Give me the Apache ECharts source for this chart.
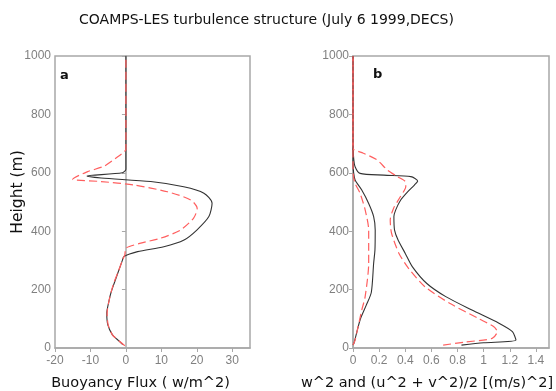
<!DOCTYPE html>
<html>
<head>
<meta charset="utf-8">
<script src="https://cdn.jsdelivr.net/npm/echarts@6/dist/echarts.min.js"></script>
<style>
  html, body { margin: 0; padding: 0; background: #fff; }
  #chart { width: 556px; height: 391px; }
</style>
</head>
<body>
<div id="chart"></div>
<script>
// panel a: buoyancy flux (W/m^2) vs height (m), [value, height]
const fluxSolid = [
  [-0.9, 12], [-2.5, 30], [-3.8, 45], [-5.1, 79], [-5.4, 119], [-4.8, 160],
  [-4.2, 190], [-3.2, 225], [-2.3, 256], [-1, 300], [-0.6, 313], [3.3, 330],
  [10.7, 347], [16.4, 370], [20, 404], [23.4, 450], [24.3, 496], [22, 530],
  [16.3, 552], [7, 570], [-7, 582], [-11, 589], [-1, 600], [0, 612], [0, 1000]
];
const fluxDashed = [
  [-0.3, 8], [-2, 25], [-3.8, 45], [-5, 79], [-5.3, 119], [-4.6, 170],
  [-3.5, 220], [-2.2, 260], [-1, 300], [-0.3, 320], [0, 342], [4.2, 359],
  [9.8, 376], [15.4, 404], [19.1, 445], [20.1, 478], [18.3, 507], [11.7, 535],
  [2.3, 558], [-7, 570], [-14, 575], [-15, 577], [-10.8, 604], [-6.1, 623],
  [-2.3, 655], [-0.5, 672], [0, 680], [0, 1000]
];

// panel b: velocity variances ((m/s)^2) vs height (m)
const uvSolid = [
  [0.83, 10], [1.0, 18], [1.247, 27], [1.22, 56], [1.117, 85], [0.91, 130],
  [0.71, 176], [0.565, 221], [0.455, 278], [0.40, 324], [0.345, 370],
  [0.318, 404], [0.313, 450], [0.327, 473], [0.365, 507], [0.418, 535],
  [0.47, 558], [0.495, 572], [0.443, 587], [0.236, 592], [0.054, 598],
  [0.016, 621], [0.005, 650], [0, 700], [0, 1000]
];
const w2Solid = [
  [0, 10], [0.008, 17], [0.054, 96], [0.1, 145], [0.14, 190], [0.158, 290],
  [0.168, 336], [0.17, 404], [0.158, 450], [0.12, 495], [0.067, 541],
  [0.016, 575], [0.005, 600], [0, 630], [0, 1000]
];
const uvDashed = [
  [0.69, 10], [0.85, 20], [1.065, 33], [1.104, 56], [1.078, 73], [0.96, 101],
  [0.74, 153], [0.55, 210], [0.425, 273], [0.352, 324], [0.295, 393],
  [0.285, 438], [0.31, 478], [0.362, 518], [0.404, 553], [0.40, 570],
  [0.34, 587], [0.262, 610], [0.184, 644], [0.08, 667], [0.005, 680],
  [0, 690], [0, 1000]
];
const w2Dashed = [
  [0, 10], [0.016, 27], [0.067, 130], [0.093, 176], [0.12, 290], [0.12, 336],
  [0.12, 404], [0.093, 473], [0.054, 530], [0.016, 564], [0.003, 590],
  [0, 620], [0, 1000]
];

const titleText = "COAMPS-LES turbulence structure (July 6 1999,DECS)";
const xNameA = "Buoyancy Flux ( w/m^2)";
const xNameB = "w^2 and (u^2 + v^2)/2 [(m/s)^2]";
const yName = "Height (m)";

const frame = "#a8a8a8";
const tickText = "#808080";
const solid = "#333";
const dashed = "#ff5f5f";
const font = "DejaVu Sans";

function xAxis(grid, min, max, interval, name, fontSize, shift) {
  return {
    type: "value", gridIndex: grid, min, max, interval,
    name, nameLocation: "middle", nameGap: 28,
    nameTextStyle: { color: "#111", fontSize, fontFamily: font, padding: [0, shift * 2, 0, 0] },
    axisLine: { show: true, onZero: false, lineStyle: { color: frame, width: 1.5 } },
    axisTick: { show: true, length: 4, lineStyle: { color: frame } },
    axisLabel: {
      color: tickText, fontSize: 12, fontFamily: "Liberation Sans", margin: 7,
      showMaxLabel: false,
      formatter: (v) => String(+v.toFixed(1))
    },
    splitLine: { show: false }
  };
}
function yAxis(grid) {
  return {
    type: "value", gridIndex: grid, min: 0, max: 1000, interval: 200,
    axisLine: { show: true, lineStyle: { color: frame, width: 1.5 } },
    axisTick: { show: true, length: 4, lineStyle: { color: frame } },
    axisLabel: {
      color: tickText, fontSize: 12, fontFamily: "Liberation Sans", margin: 4,
      formatter: (v) => String(v)
    },
    splitLine: { show: false }
  };
}
function line(idx, data, isDashed) {
  return {
    type: "line", xAxisIndex: idx, yAxisIndex: idx, data,
    showSymbol: false, smooth: 0.25, silent: true,
    lineStyle: isDashed
      ? { color: dashed, width: 1.2, type: [8, 4] }
      : { color: solid, width: 1.1 }
  };
}

const chart = echarts.init(document.getElementById("chart"), null, { renderer: "canvas" });
chart.setOption({
  backgroundColor: "#fff",
  animation: false,
  title: {
    text: titleText, left: 74, top: 8,
    textStyle: { fontSize: 14, fontWeight: "normal", color: "#111", fontFamily: font }
  },
  grid: [
    { left: 55, top: 56, width: 195, height: 292, show: true, borderColor: frame, borderWidth: 1.5, outerBoundsMode: "none" },
    { left: 353, top: 56, width: 196, height: 292, show: true, borderColor: frame, borderWidth: 1.5, outerBoundsMode: "none" }
  ],
  xAxis: [xAxis(0, -20, 35, 10, xNameA, 14.5, 12), xAxis(1, 0, 1.5, 0.2, xNameB, 14.5, 24)],
  yAxis: [yAxis(0), yAxis(1)],
  graphic: [
    { type: "text", left: 60, top: 69, style: { text: "a", font: "bold 13px DejaVu Sans", fill: "#111" } },
    { type: "text", left: 373, top: 68, style: { text: "b", font: "bold 13px DejaVu Sans", fill: "#111" } },
    {
      type: "text", x: 18, y: 192, rotation: Math.PI / 2,
      style: { text: yName, font: "15.5px DejaVu Sans", fill: "#111", align: "center", verticalAlign: "middle" }
    }
  ],
  series: [
    line(0, fluxSolid, false),
    line(0, fluxDashed, true),
    line(1, uvSolid, false),
    line(1, w2Solid, false),
    line(1, uvDashed, true),
    line(1, w2Dashed, true)
  ]
});
</script>
</body>
</html>
